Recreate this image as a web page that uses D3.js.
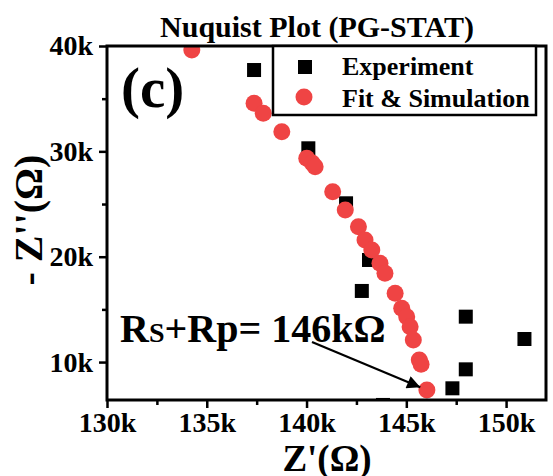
<!DOCTYPE html>
<html>
<head>
<meta charset="utf-8">
<script src="https://cdn.jsdelivr.net/npm/d3@7"></script>
<style>
  body { margin: 0; background: #fff; }
  text { font-family: "Liberation Serif", "Times New Roman", serif; font-weight: bold; fill: #000; }
</style>
</head>
<body>
<div class="chart"></div>
<script>
// Experiment points (Z' in k-ohm, -Z'' in k-ohm)
var expX = [137.37, 140.09, 141.98, 143.13, 142.77, 143.83, 147.98, 150.92, 147.98, 147.31];
var expY = [37.72, 30.29, 25.07, 19.69, 16.75, 5.93, 14.31, 12.19, 9.31, 7.51];

// Fit & Simulation points
var fitX = [134.25, 137.37, 137.83, 138.76, 140.01, 140.28, 140.43, 141.31, 141.94, 142.6, 142.93,
  143.27, 143.68, 143.93, 144.44, 144.77, 145.02, 145.19, 145.35, 145.65, 145.74, 146.03];
var fitY = [39.62, 34.56, 33.61, 31.87, 29.34, 28.89, 28.54, 26.17, 24.43, 22.85, 21.59,
  20.64, 19.37, 18.43, 16.53, 15.1, 14.31, 13.36, 12.09, 10.2, 9.8, 7.35];

var xTicks = [130000, 135000, 140000, 145000, 150000];
var yTicks = [10000, 20000, 30000, 40000];
var xMinor = [132500, 137500, 142500, 147500];
var yMinor = [15000, 25000, 35000];

var seriesNames = ["Experiment", "Fit & Simulation"];

(function() {
  var
    width = 553,
    height = 476,
    margin = {top: 46, left: 107, right: 7, bottom: 76},
    red = "#ef4444";

  var svg = d3.select(".chart").append("svg")
    .attr("width", width)
    .attr("height", height);

  var x = d3.scaleLinear().domain([130000, 152000]).range([margin.left, width - margin.right]);
  var y = d3.scaleLinear().domain([6400, 40000]).range([height - margin.bottom, margin.top]);
  var fmt = function(d) { return (d / 1000) + "k"; };

  svg.append("defs").append("clipPath").attr("id", "plotclip")
    .append("rect")
      .attr("x", x.range()[0]).attr("y", y.range()[1])
      .attr("width", x.range()[1] - x.range()[0])
      .attr("height", y.range()[0] - y.range()[1]);

  // points
  var pts = svg.append("g").attr("clip-path", "url(#plotclip)");
  pts.selectAll("rect.exp")
      .data(d3.zip(expX, expY))
    .enter().append("rect")
      .attr("class", "exp")
      .attr("x", function(d) { return x(d[0] * 1000) - 7; })
      .attr("y", function(d) { return y(d[1] * 1000) - 7; })
      .attr("width", 14).attr("height", 14)
      .attr("fill", "#000");
  pts.selectAll("circle.fit")
      .data(d3.zip(fitX, fitY))
    .enter().append("circle")
      .attr("class", "fit")
      .attr("cx", function(d) { return x(d[0] * 1000); })
      .attr("cy", function(d) { return y(d[1] * 1000); })
      .attr("r", 8.5)
      .attr("fill", red);

  // axes
  svg.append("g")
    .attr("transform", "translate(0," + y.range()[0] + ")")
    .call(d3.axisBottom(x).tickValues(xTicks).tickFormat(fmt).tickSize(8).tickPadding(4));
  svg.append("g")
    .attr("transform", "translate(0," + y.range()[0] + ")")
    .call(d3.axisBottom(x).tickValues(xMinor).tickFormat("").tickSize(5));
  svg.append("g")
    .attr("transform", "translate(" + x.range()[0] + ",0)")
    .call(d3.axisLeft(y).tickValues(yTicks).tickFormat(fmt).tickSize(8).tickPadding(6));
  svg.append("g")
    .attr("transform", "translate(" + x.range()[0] + ",0)")
    .call(d3.axisLeft(y).tickValues(yMinor).tickFormat("").tickSize(5));

  svg.selectAll(".tick line").attr("stroke", "#000").attr("stroke-width", 2.5);
  svg.selectAll(".tick text")
    .style("font-family", "Liberation Serif, serif")
    .style("font-weight", "bold")
    .style("font-size", "28px")
    .attr("fill", "#000");
  svg.selectAll(".domain").remove();

  // frame
  svg.append("rect")
    .attr("x", x.range()[0]).attr("y", y.range()[1])
    .attr("width", x.range()[1] - x.range()[0])
    .attr("height", y.range()[0] - y.range()[1])
    .attr("fill", "none").attr("stroke", "#000").attr("stroke-width", 3);

  // legend
  var lg = svg.append("g");
  lg.append("rect")
    .attr("x", 273).attr("y", margin.top)
    .attr("width", 263).attr("height", 69)
    .attr("fill", "#fff").attr("stroke", "#000").attr("stroke-width", 2.5);
  lg.append("rect").attr("x", 298).attr("y", 60).attr("width", 14).attr("height", 14).attr("fill", "#000");
  lg.append("circle").attr("cx", 304).attr("cy", 97).attr("r", 8.5).attr("fill", red);
  lg.selectAll("text.leg")
      .data(seriesNames)
    .enter().append("text")
      .attr("class", "leg")
      .attr("x", 342)
      .attr("y", function(d, i) { return 75 + i * 32; })
      .style("font-size", "26px")
      .text(function(d) { return d; });

  // title, panel letter
  svg.append("text")
    .attr("x", 317).attr("y", 37)
    .attr("text-anchor", "middle")
    .style("font-size", "30px")
    .text("Nuquist Plot (PG-STAT)");
  svg.append("text")
    .attr("x", 121).attr("y", 107)
    .style("font-size", "57px")
    .text("(c)");

  // axis titles
  svg.append("text")
    .attr("x", 327).attr("y", 471)
    .attr("text-anchor", "middle")
    .style("font-size", "37px")
    .text("Z'(\u03A9)");
  svg.append("text")
    .attr("transform", "translate(42,220) rotate(-90)")
    .attr("text-anchor", "middle")
    .style("font-size", "40px")
    .text("- Z''(\u03A9)");

  // annotation
  var ann = svg.append("text")
    .attr("x", 120).attr("y", 342)
    .style("font-size", "40px");
  ann.append("tspan").text("R");
  ann.append("tspan").style("font-size", "28px").text("S");
  ann.append("tspan").text("+R");
  ann.append("tspan").text("p= 146k\u03A9");

  svg.append("defs").append("marker")
    .attr("id", "arrow")
    .attr("viewBox", "0 0 10 10")
    .attr("refX", 10).attr("refY", 5)
    .attr("markerWidth", 8).attr("markerHeight", 6)
    .attr("orient", "auto")
    .attr("markerUnits", "strokeWidth")
    .append("path").attr("d", "M0,0L10,5L0,10z").attr("fill", "#000");
  svg.append("line")
    .attr("x1", 312).attr("y1", 342)
    .attr("x2", x(145700)).attr("y2", y(7600))
    .attr("stroke", "#000").attr("stroke-width", 2.2)
    .attr("marker-end", "url(#arrow)");
})();
</script>
</body>
</html>
